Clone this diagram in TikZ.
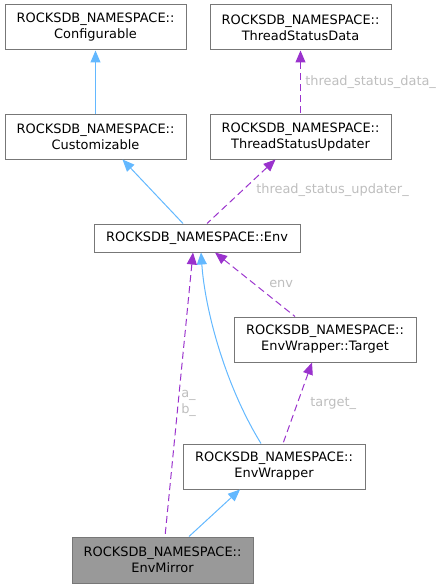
\documentclass[tikz,border=0pt]{standalone}
\usepackage{fontspec}
\setmainfont{DejaVu Sans}
\usetikzlibrary{arrows.meta,calc}
\definecolor{inh}{HTML}{63B8FF}
\definecolor{usg}{HTML}{9A32CD}
\definecolor{lbl}{HTML}{BEBEBE}
\definecolor{bord}{HTML}{777777}
\definecolor{fillg}{HTML}{999999}
\begin{document}
\begin{tikzpicture}[x=0.75pt,y=-0.75pt,
 cls/.style={draw=bord,line width=0.75pt,fill=white,inner sep=0pt,align=center,font=\fontsize{9.7}{12}\selectfont,minimum width=135.75pt,minimum height=33.75pt},
 inhline/.style={draw=inh,line width=0.75pt,{Triangle[length=9pt,width=7.5pt]}-},
 usgline/.style={draw=usg,line width=0.75pt,dash pattern=on 5.25pt off 3pt,{Triangle[length=9pt,width=7.5pt]}-},
 elabel/.style={text=lbl,font=\fontsize{9.7}{12}\selectfont,anchor=west,inner sep=0pt,align=left}]
\useasboundingbox (0,0) rectangle (443,588);
\node[cls] (conf) at (95.5,27.5) {ROCKSDB\_NAMESPACE::\\Configurable};
\node[cls] (tsd) at (300.5,27.5) {ROCKSDB\_NAMESPACE::\\ThreadStatusData};
\node[cls,minimum height=33pt] (cust) at (95.5,137) {ROCKSDB\_NAMESPACE::\\Customizable};
\node[cls,minimum height=33pt] (tsu) at (300.5,137) {ROCKSDB\_NAMESPACE::\\ThreadStatusUpdater};
\node[cls,minimum width=154.5pt,minimum height=21pt] (env) at (197,238) {ROCKSDB\_NAMESPACE::Env};
\node[cls,minimum width=136.5pt] (tgt) at (325,339.5) {ROCKSDB\_NAMESPACE::\\EnvWrapper::Target};
\node[cls,minimum width=136.5pt] (ew) at (274,466.5) {ROCKSDB\_NAMESPACE::\\EnvWrapper};
\node[cls,fill=fillg,minimum height=34.5pt] (em) at (162.5,560) {ROCKSDB\_NAMESPACE::\\EnvMirror};

\draw[inhline] (conf.south) -- (cust.north);
\draw[usgline] (tsd.south) -- (tsu.north);
\node[elabel] (l1) at (305,82) {thread\_status\_data\_};
\draw[inhline] ($(cust.south)+(27,0)$) -- ($(env.north)+(-14,0)$);
\draw[usgline] ($(tsu.south)+(-25,0)$) -- ($(env.north)+(10,0)$);
\node[elabel] (l2) at (256,190) {thread\_status\_updater\_};
\draw[usgline] ($(env.south)+(18,0)$) -- ($(tgt.north)+(-30,0)$);
\node[elabel] (l3) at (269,284) {env};
\draw[inhline] ($(env.south)+(4,0)$) .. controls (205,310) and (225,385) .. ($(ew.north)+(-13,0)$);
\draw[usgline] ($(env.south)+(-4,0)$) -- ($(em.north)+(2.5,0)$);
\node[elabel] (l4) at (181,403) {a\_\\b\_};
\draw[usgline] ($(tgt.south)+(-13,0)$) -- ($(ew.north)+(9,0)$);
\node[elabel] (l5) at (310,403) {target\_};
\draw[inhline] ($(ew.south)+(-34,0)$) -- ($(em.north)+(26.5,0)$);
\end{tikzpicture}
\end{document}
